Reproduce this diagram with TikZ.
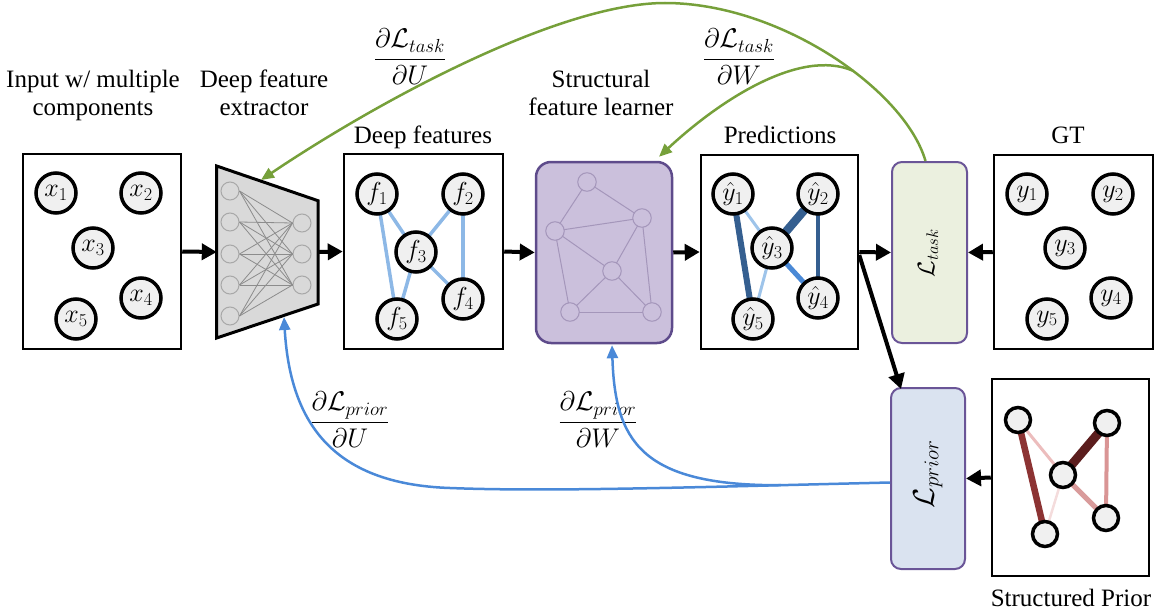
\RequirePackage{fix-cm}
\documentclass[tikz,border=0pt]{standalone}
\usepackage{fontspec}
\setmainfont{Liberation Serif}
\newfontfamily\serifl{Liberation Serif}
\usetikzlibrary{arrows.meta}
\definecolor{cfill}{HTML}{F0F0F0}
\definecolor{trapfill}{HTML}{D9D9D9}
\definecolor{nngray}{HTML}{A8A8A8}
\definecolor{nnedge}{HTML}{8C8C8C}
\definecolor{sflfill}{HTML}{CBC0DC}
\definecolor{sfldraw}{HTML}{5E4B8B}
\definecolor{sgray}{HTML}{A496BA}
\definecolor{taskfill}{HTML}{EBF0DF}
\definecolor{priorfill}{HTML}{DAE3F0}
\definecolor{lossdraw}{HTML}{6A5597}
\definecolor{gcol}{HTML}{76A03A}
\definecolor{bcol}{HTML}{4A89D8}
\definecolor{dfedge}{HTML}{8DB8E6}
\definecolor{bdark}{HTML}{355F90}
\definecolor{bmed}{HTML}{4A89D6}
\definecolor{blight}{HTML}{9EC4EA}
\definecolor{rA}{HTML}{8C3333}
\definecolor{rB}{HTML}{ECBDBD}
\definecolor{rC}{HTML}{5B1D1D}
\definecolor{rD}{HTML}{D99595}
\definecolor{rE}{HTML}{D99B9B}
\definecolor{rF}{HTML}{F4DCDC}
\pgfdeclarelayer{back}
\pgfdeclarelayer{bg}
\pgfsetlayers{back,bg,main}
\begin{document}
\begin{tikzpicture}[x=1pt,y=-1pt,
  panel/.style={draw=black, line width=2.5pt, inner sep=0pt},
  comp/.style={circle, draw=black, line width=3.5pt, fill=cfill, minimum size=40pt, inner sep=0pt, font=\fontsize{26}{28}\selectfont},
  pnode/.style={circle, draw=black, line width=3.5pt, fill=cfill, minimum size=25pt, inner sep=0pt},
  nnode/.style={circle, draw=nngray, line width=1pt, fill=trapfill, minimum size=18pt, inner sep=0pt},
  snode/.style={circle, draw=sgray, line width=1pt, fill=sflfill, minimum size=18.5pt, inner sep=0pt},
  lbl/.style={font=\serifl\fontsize{25}{28}\selectfont, align=center, inner sep=0pt},
  flow/.style={line width=4pt, -{Triangle[length=15pt,width=16pt]}},
  gline/.style={draw=gcol, line width=2.5pt, -{Triangle[length=13pt,width=11pt]}},
  bline/.style={draw=bcol, line width=2.5pt, -{Triangle[length=13pt,width=11pt]}},
  fracl/.style={font=\fontsize{27}{30}\selectfont, inner sep=0pt},
  loss/.style={draw=lossdraw, line width=2pt, rounded corners=10pt, inner sep=0pt, minimum width=75pt, minimum height=181pt},
  dfe/.style={line width=3.5pt, line cap=round, draw=dfedge},
  nnline/.style={draw=nnedge, line width=0.8pt},
  sline/.style={draw=sgray, line width=1pt},
]
\useasboundingbox (0,0) rectangle (1168,613);

% ---------- panels ----------
\node[panel, minimum width=158pt, minimum height=195pt] (inbox) at (102,251.5) {};
\node[panel, minimum width=159pt, minimum height=195pt] (dfbox) at (423.5,251.5) {};
\node[panel, minimum width=157pt, minimum height=194pt] (predbox) at (779.5,252) {};
\node[panel, minimum width=159pt, minimum height=194pt] (gtbox) at (1073.5,252) {};
\node[panel, minimum width=157pt, minimum height=197pt] (spbox) at (1070.5,477.5) {};
\begin{pgfonlayer}{back}
\node[draw=sfldraw, fill=sflfill, line width=2.5pt, rounded corners=15pt, minimum width=136pt, minimum height=181pt] (sfl) at (604,252.5) {};
\end{pgfonlayer}
\node[loss, fill=taskfill] (ltask) at (929.5,252.5) {};
\node[loss, fill=priorfill, minimum width=74pt] (lprior) at (928,478.5) {};
\node[rotate=90, inner sep=0pt, font=\fontsize{24}{26}\selectfont] (ltasktxt) at (928,253) {$\mathcal{L}_{task}$};
\node[rotate=90, inner sep=0pt, font=\fontsize{30}{32}\selectfont] (lpriortxt) at (928,474) {$\mathcal{L}_{prior}$};

% ---------- deep feature extractor ----------
\node[minimum width=101pt, minimum height=172pt, inner sep=0pt] (dfex) at (267.5,252) {};
\begin{pgfonlayer}{back}
\draw[fill=trapfill, line width=3pt, line join=miter] (216.7,166) -- (318,200.7) -- (318,304) -- (216.7,338) -- cycle;
\end{pgfonlayer}
\foreach \i/\y in {1/191,2/222,3/254,4/285,5/316} {\node[nnode] (nl\i) at (230,\y) {};}
\foreach \j/\y in {1/223,2/254,3/285} {\node[nnode] (nr\j) at (302,\y) {};}
\foreach \i in {1,...,5} {\foreach \j in {1,2,3} {\draw[nnline] (nl\i.east) -- (nr\j.west);}}
\coordinate (dfetop) at (261,180);
\coordinate (dfebot) at (284,317);

% ---------- input components ----------
\node[comp] (x1) at (56,193) {$x_1$};
\node[comp] (x2) at (141,193) {$x_2$};
\node[comp] (x3) at (93,248) {$x_3$};
\node[comp] (x4) at (141,298) {$x_4$};
\node[comp] (x5) at (76,319) {$x_5$};

% ---------- deep features ----------
\node[comp] (f1) at (377,194) {$f_1$};
\node[comp] (f2) at (463,194) {$f_2$};
\node[comp] (f3) at (416,252) {$f_3$};
\node[comp] (f4) at (463,299) {$f_4$};
\node[comp] (f5) at (397,319) {$f_5$};
\begin{pgfonlayer}{bg}
\draw[dfe] (f1.center) -- (f3.center);
\draw[dfe] (f1.center) -- (f5.center);
\draw[dfe] (f2.center) -- (f3.center);
\draw[dfe] (f2.center) -- (f4.center);
\draw[dfe] (f3.center) -- (f4.center);
\draw[dfe] (f3.center) -- (f5.center);
\end{pgfonlayer}

% ---------- structural feature learner graph ----------
\node[snode] (s1) at (587,182) {};
\node[snode] (s2) at (642,218) {};
\node[snode] (s3) at (555,231) {};
\node[snode] (s4) at (612,271) {};
\node[snode] (s5) at (570,312) {};
\node[snode] (s6) at (652,312) {};
\begin{pgfonlayer}{bg}
\foreach \a/\b in {s1/s2,s1/s3,s3/s2,s3/s4,s3/s5,s2/s4,s2/s6,s4/s5,s4/s6,s5/s6}
  {\draw[sline] (\a.center) -- (\b.center);}
\end{pgfonlayer}

% ---------- predictions ----------
\node[comp] (p1) at (733,194) {$\hat{y}_1$};
\node[comp] (p2) at (818,194) {$\hat{y}_2$};
\node[comp] (p3) at (772,248) {$\hat{y}_3$};
\node[comp] (p4) at (818,298) {$\hat{y}_4$};
\node[comp] (p5) at (753,319) {$\hat{y}_5$};
\begin{pgfonlayer}{bg}
\draw[draw=bdark, line width=6pt] (p1.center) -- (p5.center);
\draw[draw=blight, line width=3pt] (p1.center) -- (p3.center);
\draw[draw=bdark, line width=8.5pt] (p2.center) -- (p3.center);
\draw[draw=bdark, line width=4.5pt] (p2.center) -- (p4.center);
\draw[draw=bmed, line width=5pt] (p3.center) -- (p4.center);
\draw[draw=blight, line width=3pt] (p3.center) -- (p5.center);
\end{pgfonlayer}

% ---------- ground truth ----------
\node[comp] (g1) at (1027,194) {$y_1$};
\node[comp] (g2) at (1113,194) {$y_2$};
\node[comp] (g3) at (1065,248) {$y_3$};
\node[comp] (g4) at (1111,298) {$y_4$};
\node[comp] (g5) at (1047,319) {$y_5$};

% ---------- structured prior ----------
\node[pnode] (q1) at (1018,420) {};
\node[pnode] (q2) at (1107,423) {};
\node[pnode] (q3) at (1063,475) {};
\node[pnode] (q4) at (1106,518) {};
\node[pnode] (q5) at (1045,534) {};
\begin{pgfonlayer}{bg}
\draw[draw=rA, line width=6.5pt] (q1.center) -- (q5.center);
\draw[draw=rB, line width=3pt] (q1.center) -- (q3.center);
\draw[draw=rC, line width=9pt] (q2.center) -- (q3.center);
\draw[draw=rD, line width=4pt] (q2.center) -- (q4.center);
\draw[draw=rE, line width=5pt] (q3.center) -- (q4.center);
\draw[draw=rF, line width=2.5pt] (q3.center) -- (q5.center);
\end{pgfonlayer}

% ---------- labels ----------
\node[lbl, anchor=base] (tin) at (93,115) {Input w/ multiple\\components};
\node[lbl, anchor=base] (tdfe) at (264,115) {Deep feature\\extractor};
\node[lbl, anchor=base] (tdf) at (423,143) {Deep features};
\node[lbl, anchor=base] (tsfl) at (601,115) {Structural\\feature learner};
\node[lbl, anchor=base] (tpred) at (780,143) {Predictions};
\node[lbl, anchor=base] (tgt) at (1068,143) {GT};
\node[lbl, anchor=base] (tsp) at (1071,606) {Structured Prior};

\node[fracl] (fTU) at (410,57) {$\displaystyle\frac{\partial\mathcal{L}_{task}}{\partial U}$};
\node[fracl] (fTW) at (739,57) {$\displaystyle\frac{\partial\mathcal{L}_{task}}{\partial W}$};
\node[fracl] (fPU) at (350,420) {$\displaystyle\frac{\partial\mathcal{L}_{prior}}{\partial U}$};
\node[fracl] (fPW) at (598,420) {$\displaystyle\frac{\partial\mathcal{L}_{prior}}{\partial W}$};

% ---------- forward arrows ----------
\draw[flow] (inbox.east) -- (dfex.west);
\draw[flow] (dfex.east) -- (dfbox.west);
\draw[flow] (dfbox.east) -- (sfl.west);
\draw[flow] (sfl.east) -- (predbox.west);
\draw[flow] (predbox.east) -- (ltask.west);
\draw[flow] (gtbox.west) -- (ltask.east);
\draw[flow] ([yshift=-3pt]predbox.east) -- ([xshift=11pt,yshift=-2pt]lprior.north west);
\draw[flow] (spbox.west) -- (lprior.east);

% ---------- gradients ----------
\coordinate (gpeak) at (665,3);
\draw[gline] ([xshift=-4pt]ltask.north) .. controls (905,90) and (780,3) .. (gpeak) coordinate[pos=0.42] (gj)
  .. controls (560,3) and (380,100) .. (dfetop);
\draw[gline] (gj) .. controls (800,48) and (720,100) .. ([xshift=55pt,yshift=4pt]sfl.north);

\coordinate (bmid) at (450,488);
\draw[bline] ([yshift=-4pt]lprior.west) .. controls (700,487) and (550,492) .. (bmid) coordinate[pos=0.2] (bj)
  .. controls (330,484) and (290,420) .. (dfebot);
\draw[bline] (bj) .. controls (640,486) and (615,440) .. ([xshift=8pt,yshift=-1pt]sfl.south);
\end{tikzpicture}
\end{document}
